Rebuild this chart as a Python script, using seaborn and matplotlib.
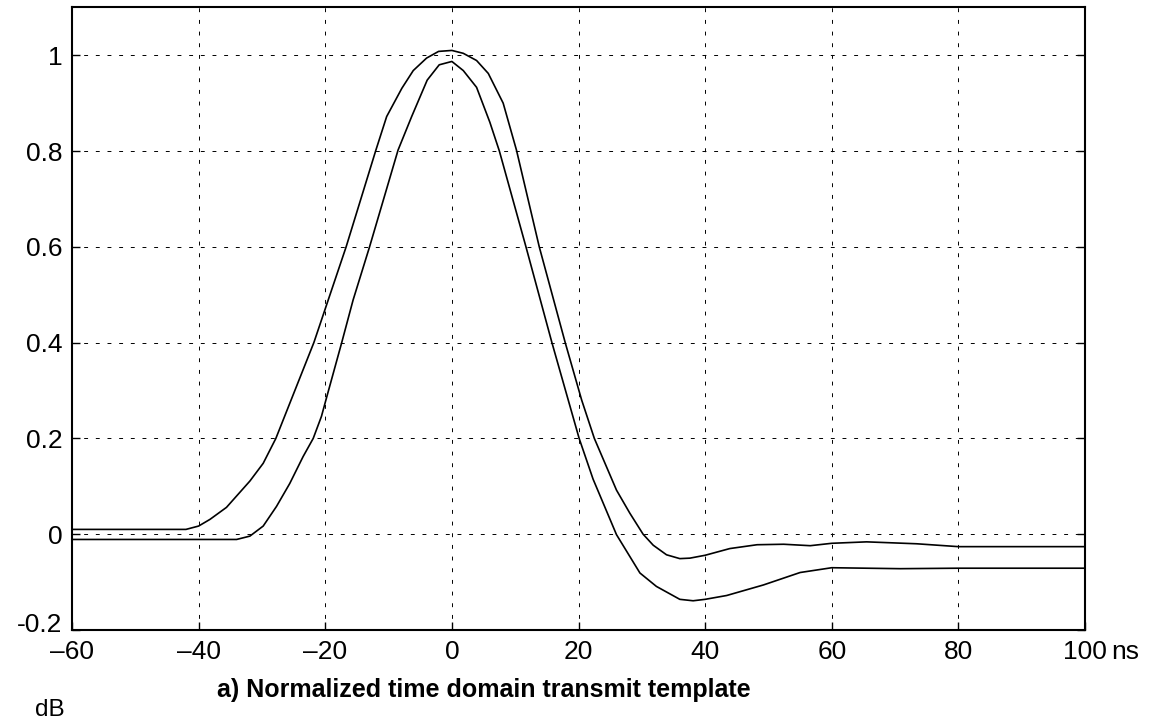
import numpy as np
import pandas as pd
import seaborn as sns
import matplotlib
matplotlib.use("Agg")
import matplotlib.pyplot as plt
import matplotlib.transforms as mtransforms

# upper and lower bounds of the transmit template
upper_t = [-60, -42, -40, -38.2, -35.6, -31.9, -29.8, -27.8, -21.8,
           -16.7, -12.0, -10.3, -7.9, -6.1, -4.0, -2.1, 0, 1.8, 3.9, 5.75, 8.1, 10.2,
           13.8, 17.9, 20.5, 22.5, 26.0, 28.1, 30.2, 31.8, 33.9, 36.0, 37.6, 40.0,
           43.9, 48.2, 52.4, 56.6, 60.0, 65.5, 73.4, 80.0, 100]
upper_v = [0.010, 0.010, 0.017, 0.031, 0.056, 0.111, 0.148, 0.200, 0.400,
           0.600, 0.802, 0.872, 0.931, 0.968, 0.994, 1.008, 1.010, 1.004, 0.989, 0.962, 0.900, 0.802,
           0.600, 0.400, 0.280, 0.200, 0.092, 0.044, 0.000, -0.023, -0.043, -0.051, -0.050, -0.044,
           -0.030, -0.022, -0.021, -0.024, -0.019, -0.016, -0.020, -0.026, -0.026]

lower_t = [-60, -34.0, -31.9, -29.8, -27.7, -25.6, -23.5, -21.9, -20.6, -19.9, -17.4, -15.6,
           -13.0, -8.5, -6.35, -3.9, -2.0, 0, 1.8, 3.9, 6.0, 7.5, 11.7, 15.8, 20.1,
           22.3, 26.0, 29.7, 32.3, 36.0, 38.1, 40.0, 43.4, 49.2, 55.0, 60.0, 70.8, 80.0, 100]
lower_v = [-0.011, -0.011, -0.004, 0.017, 0.058, 0.106, 0.162, 0.200, 0.246, 0.280, 0.400, 0.489,
           0.600, 0.802, 0.872, 0.948, 0.980, 0.987, 0.968, 0.933, 0.860, 0.800, 0.600, 0.400, 0.200,
           0.115, -0.001, -0.081, -0.109, -0.136, -0.139, -0.136, -0.128, -0.106, -0.080, -0.070, -0.072, -0.071, -0.071]

xticks = [-60, -40, -20, 0, 20, 40, 60, 80, 100]
xtick_labels = ["\u201360", "\u201340", "\u201320", "0", "20", "40", "60", "80", "100"]
yticks = [-0.2, 0, 0.2, 0.4, 0.6, 0.8, 1.0]
ytick_labels = ["-0.2", "0", "0.2", "0.4", "0.6", "0.8", "1"]

sns.set_style("white")
plt.rcParams["font.family"] = ["Liberation Sans", "DejaVu Sans"]
plt.rcParams["text.color"] = "black"

fig = plt.figure(figsize=(11.5, 7.19), dpi=100)
ax = fig.add_axes([0.0626, 0.1238, 0.8809, 0.866])

upper = pd.DataFrame({"t": upper_t, "v": upper_v})
lower = pd.DataFrame({"t": lower_t, "v": lower_v})
sns.lineplot(data=upper, x="t", y="v", color="black", linewidth=1.2, sort=False, ax=ax)
sns.lineplot(data=lower, x="t", y="v", color="black", linewidth=1.2, sort=False, ax=ax)

ax.set_xlim(-60, 100)
ax.set_ylim(-0.2, 1.1)
ax.set_xticks(xticks)
ax.set_xticklabels(xtick_labels)
ax.set_yticks(yticks)
ax.set_yticklabels(ytick_labels)
ax.set_xlabel("")
ax.set_ylabel("")
ax.grid(True, color="black", linewidth=0.7, linestyle=(0, (4, 8)))
ax.tick_params(direction="in", length=6, width=1, labelsize=19, colors="black",
               top=False, right=True, bottom=True, left=True, pad=7)
for s in ax.spines.values():
    s.set_color("black")
    s.set_linewidth(1.5)

# the -0.2 label sits a little above its tick in the original
lab = ax.yaxis.get_major_ticks()[0].label1
lab.set_transform(lab.get_transform() + mtransforms.ScaledTranslation(0, 7 / 100, fig.dpi_scale_trans))

ax.annotate("ns", xy=(100, -0.2), xycoords="data", xytext=(19, -7),
            textcoords="offset points", ha="left", va="top", fontsize=19)

fig.text(484 / 1150, 1 - 690 / 719, "a) Normalized time domain transmit template",
         ha="center", va="center", fontsize=18, fontweight="bold")
fig.text(35 / 1150, 1 - 710 / 719, "dB", ha="left", va="center", fontsize=17.5)

fig.savefig("out.png", dpi=100)
